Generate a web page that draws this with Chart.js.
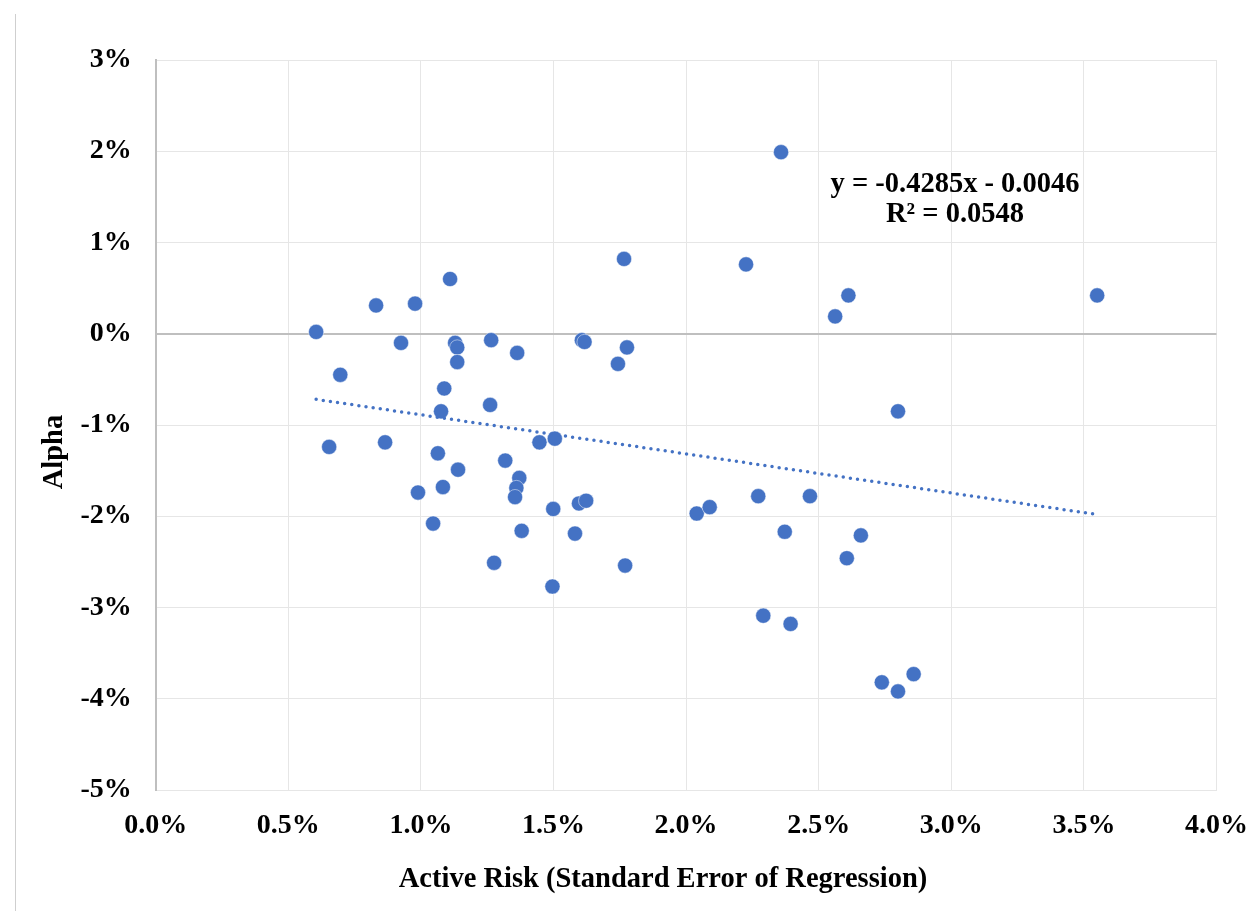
<!DOCTYPE html>
<html>
<head>
<meta charset="utf-8">
<script src="https://cdn.jsdelivr.net/npm/chart.js@4.4.1/dist/chart.umd.min.js"></script>
<style>
  html, body { margin: 0; padding: 0; background: #fff; }
  #wrap { position: relative; width: 1251px; height: 911px; }
  #edge { position: absolute; left: 15px; top: 14px; bottom: 0; width: 1px; background: #cfcfcf; }
  canvas { position: absolute; left: 0; top: 0; }
</style>
</head>
<body>
<div id="wrap">
  <div id="edge"></div>
  <canvas id="chart" width="1251" height="911"></canvas>
</div>
<script>
// active risk (%) and alpha (%) per fund
const activeRisk = [
  0.605, 0.696, 0.654, 0.831, 0.865, 0.925, 0.978, 0.989, 1.046, 1.110,
  1.129, 1.137, 1.137, 1.088, 1.076, 1.064, 1.083, 1.140, 1.265, 1.261,
  1.276, 1.318, 1.363, 1.371, 1.360, 1.355, 1.380, 1.447, 1.505, 1.499,
  1.496, 1.581, 1.596, 1.623, 1.607, 1.617, 1.743, 1.766, 1.777, 1.770,
  2.040, 2.089, 2.226, 2.272, 2.291, 2.358, 2.372, 2.394, 2.467, 2.562,
  2.612, 2.799, 2.606, 2.659, 2.738, 2.799, 2.858, 3.550,
];
const alpha = [
  0.02, -0.45, -1.24, 0.31, -1.19, -0.10, 0.33, -1.74, -2.08, 0.60,
  -0.10, -0.15, -0.31, -0.60, -0.85, -1.31, -1.68, -1.49, -0.07, -0.78,
  -2.51, -1.39, -0.21, -1.58, -1.69, -1.79, -2.16, -1.19, -1.15, -1.92,
  -2.77, -2.19, -1.86, -1.83, -0.07, -0.09, -0.33, 0.82, -0.15, -2.54,
  -1.97, -1.90, 0.76, -1.78, -3.09, 1.99, -2.17, -3.18, -1.78, 0.19,
  0.42, -0.85, -2.46, -2.21, -3.82, -3.92, -3.73, 0.42,
];

// linear trendline ends
const trendX = [0.605, 3.550];
const trendY = [-0.719, -1.981];

const yTicks = [-5, -4, -3, -2, -1, 0, 1, 2, 3];
const xTicks = [0, 0.5, 1, 1.5, 2, 2.5, 3, 3.5, 4];

const xTitle = 'Active Risk (Standard Error of Regression)';
const yTitle = 'Alpha';
const equationLines = ['y = -0.4285x - 0.0046', 'R\u00b2 = 0.0548'];

const serif = '"Liberation Serif", "Times New Roman", serif';
const blue = '#4472C4';

const labelsPlugin = {
  id: 'labelsPlugin',
  afterDraw(chart) {
    const { ctx, scales } = chart;
    ctx.save();
    ctx.fillStyle = '#000';
    ctx.font = `bold 28.5px ${serif}`;
    ctx.textAlign = 'center';
    ctx.textBaseline = 'middle';

    // axis titles
    ctx.fillText(xTitle, 663, 880);
    ctx.translate(55, 452);
    ctx.rotate(-Math.PI / 2);
    ctx.fillText(yTitle, 0, 0);
    ctx.setTransform(1, 0, 0, 1, 0, 0);

    // trendline equation
    const ex = scales.x.getPixelForValue(3.014);
    ctx.fillText(equationLines[0], ex, scales.y.getPixelForValue(1.63));
    ctx.fillText(equationLines[1], ex, scales.y.getPixelForValue(1.31));
    ctx.restore();
  },
};

const points = activeRisk.map((x, i) => ({ x: x, y: alpha[i] }));
const trend = trendX.map((x, i) => ({ x: x, y: trendY[i] }));

new Chart(document.getElementById('chart'), {
  type: 'scatter',
  data: {
    datasets: [
      {
        label: 'Trend',
        type: 'line',
        data: trend,
        borderColor: blue,
        borderWidth: 3.5,
        borderDash: [0, 7.2],
        borderCapStyle: 'round',
        pointRadius: 0,
        fill: false,
        order: 0,
      },
      {
        label: 'Alpha',
        data: points,
        backgroundColor: blue,
        borderColor: 'rgba(255, 255, 255, 0.6)',
        borderWidth: 0.8,
        pointRadius: 7.6,
        order: 1,
      },
    ],
  },
  options: {
    responsive: false,
    devicePixelRatio: 1,
    animation: false,
    layout: {
      padding: { top: 60, right: 34.5, left: 0, bottom: 0 },
    },
    scales: {
      x: {
        type: 'linear',
        min: 0,
        max: 4,
        afterBuildTicks: (scale) => { scale.ticks = xTicks.map((v) => ({ value: v })); },
        afterFit: (scale) => {
          scale.height = 121;
          scale.paddingLeft = 0;
          scale.paddingRight = 0;
        },
        grid: {
          color: '#e6e6e6',
          lineWidth: 1,
          drawTicks: false,
        },
        border: { display: true, color: '#e6e6e6', width: 1 },
        ticks: {
          padding: 19,
          color: '#000',
          font: { family: serif, size: 28, weight: 'bold' },
          callback: (v) => v.toFixed(1) + '%',
        },
      },
      y: {
        type: 'linear',
        min: -5,
        max: 3,
        afterBuildTicks: (scale) => { scale.ticks = yTicks.map((v) => ({ value: v })); },
        afterFit: (scale) => {
          scale.width = 155.7;
          scale.paddingTop = 0;
          scale.paddingBottom = 0;
        },
        grid: {
          color: (c) => (c.tick && c.tick.value === 0 ? '#bfbfbf' : '#e6e6e6'),
          lineWidth: (c) => (c.tick && c.tick.value === 0 ? 2 : 1),
          drawTicks: false,
        },
        border: { display: true, color: '#bfbfbf', width: 2 },
        ticks: {
          padding: 24,
          color: '#000',
          font: { family: serif, size: 28, weight: 'bold' },
          callback: (v) => v + '%',
        },
      },
    },
    plugins: {
      legend: { display: false },
      tooltip: { enabled: false },
    },
  },
  plugins: [labelsPlugin],
});
</script>
</body>
</html>
